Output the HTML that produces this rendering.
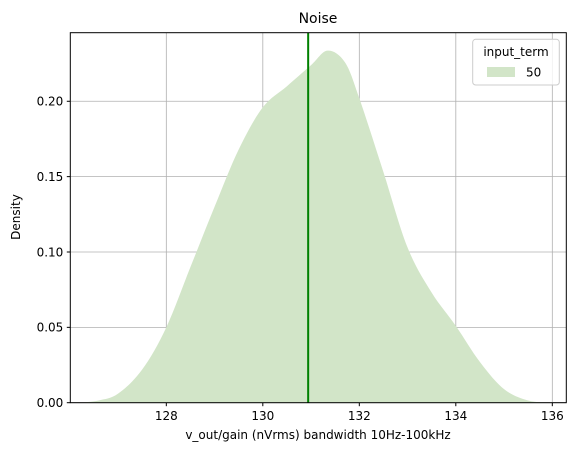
<!DOCTYPE html>
<html><head><meta charset="utf-8"><style>
html,body{margin:0;padding:0;background:#fff}
svg{display:block;font-family:"DejaVu Sans","Liberation Sans",sans-serif}
</style></head><body>
<svg id="chart" width="576" height="455">
<g id="grid"></g>
<path id="kde" fill="#d2e5c8" stroke="none"/>
<line id="vline" stroke="#008000" stroke-width="2"/>
<rect x="70.3" y="32.7" width="496" height="370" fill="none" stroke="#000" stroke-width="1"/>
<g id="ticks"></g>
<text x="318" y="23" text-anchor="middle" font-size="14">Noise</text>
<text x="318" y="439" text-anchor="middle" font-size="12">v_out/gain (nVrms) bandwidth 10Hz-100kHz</text>
<text transform="translate(20,217) rotate(-90)" text-anchor="middle" font-size="12">Density</text>
<g>
<rect x="472.7" y="39.3" width="86.6" height="45.7" rx="3" fill="#fff" fill-opacity="0.8" stroke="#ccc"/>
<text x="516" y="56" text-anchor="middle" font-size="12">input_term</text>
<rect x="487" y="67" width="28" height="10" fill="#d2e5c8"/>
<text x="526" y="76.5" font-size="12">50</text>
</g>
</svg>
<script>
const xTicks=[128,130,132,134,136];
const yTicks=[0.00,0.05,0.10,0.15,0.20];
const kdeX=[126.2,126.6,127,127.5,128,128.5,129,129.5,130,130.5,131,131.34,131.7,132,132.5,133,133.5,134,134.5,135,135.5,136];
const kdeY=[0,0.0015,0.006,0.022,0.05,0.09,0.13,0.168,0.196,0.210,0.224,0.2336,0.226,0.202,0.153,0.103,0.073,0.051,0.027,0.009,0.0015,0];
const meanX=130.94;
const L=70.3,R=566.3,T=32.7,B=402.7,xmin=126.01,xmax=136.29,ymax=0.2455;
const sx=v=>L+(v-xmin)/(xmax-xmin)*(R-L);
const sy=v=>B-v/ymax*(B-T);
const NS="http://www.w3.org/2000/svg";
const grid=document.getElementById('grid'),ticks=document.getElementById('ticks');
function mk(tag,at,parent){const e=document.createElementNS(NS,tag);for(const k in at)e.setAttribute(k,at[k]);parent.appendChild(e);return e;}
xTicks.forEach(v=>{const x=sx(v);
const g=mk('line',{x1:x,x2:x,y1:T,y2:B,stroke:'#b0b0b0','stroke-width':0.8},grid);


mk('line',{x1:x,x2:x,y1:B,y2:B+3.5,stroke:'#000'},ticks);
const t=mk('text',{x:x,y:B+17.5,'text-anchor':'middle','font-size':12},ticks);t.textContent=v;

});
yTicks.forEach(v=>{const y=sy(v);
const g=mk('line',{x1:L,x2:R,y1:y,y2:y,stroke:'#b0b0b0','stroke-width':0.8},grid);


mk('line',{x1:L-3.5,x2:L,y1:y,y2:y,stroke:'#000'},ticks);
const t=mk('text',{x:L-7,y:y+4.3,'text-anchor':'end','font-size':12},ticks);t.textContent=v.toFixed(2);

});
const P=kdeX.map((v,i)=>[sx(v),sy(kdeY[i])]);
let d=`M${P[0][0]},${B}L${P[0][0]},${P[0][1]}`;
for(let i=0;i<P.length-1;i++){const p0=P[Math.max(0,i-1)],p1=P[i],p2=P[i+1],p3=P[Math.min(P.length-1,i+2)];
const c1=[p1[0]+(p2[0]-p0[0])/6,Math.min(B,p1[1]+(p2[1]-p0[1])/6)],c2=[p2[0]-(p3[0]-p1[0])/6,Math.min(B,p2[1]-(p3[1]-p1[1])/6)];
d+=`C${c1[0]},${c1[1]} ${c2[0]},${c2[1]} ${p2[0]},${p2[1]}`;}
d+=`L${P[P.length-1][0]},${B}Z`;
document.getElementById('kde').setAttribute('d',d);
const vl=document.getElementById('vline');
vl.setAttribute('x1',sx(meanX));vl.setAttribute('x2',sx(meanX));vl.setAttribute('y1',T);vl.setAttribute('y2',B);
</script>
</body></html>
